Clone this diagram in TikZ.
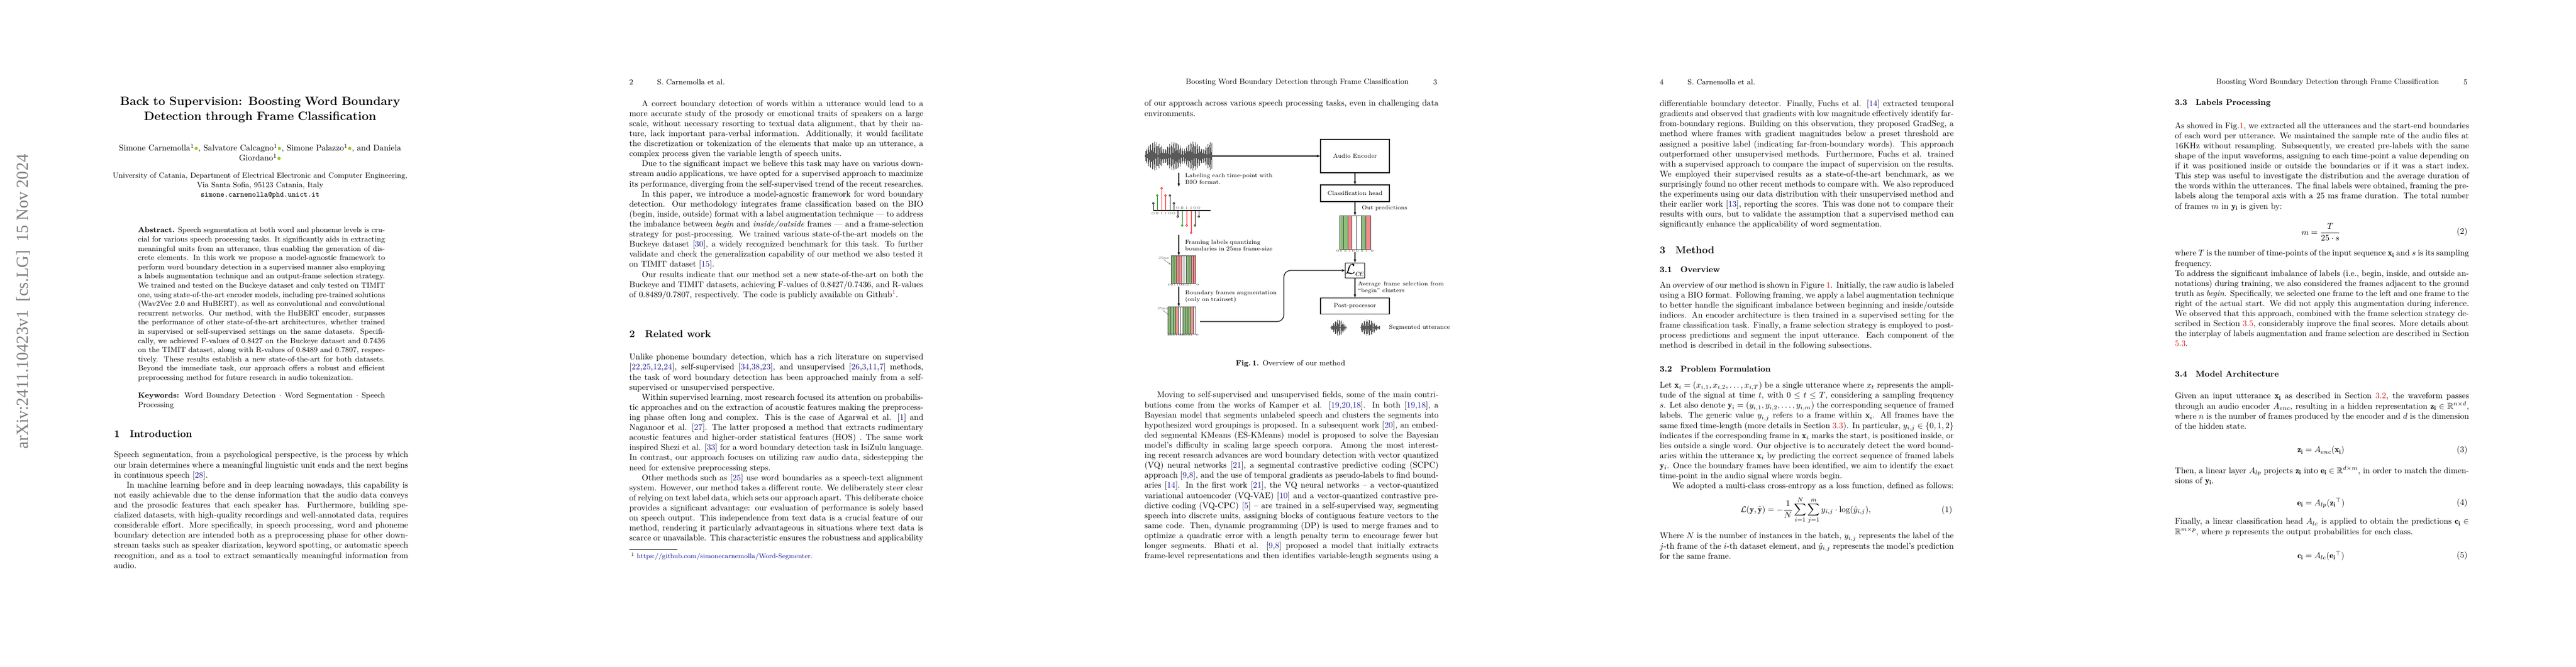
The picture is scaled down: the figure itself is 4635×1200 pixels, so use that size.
\documentclass[tikz,border=0pt]{standalone}
\usepackage{amsmath,amssymb}
\usepackage{fontspec}
\newfontfamily\timesf{Liberation Serif}
\usetikzlibrary{arrows.meta}
\definecolor{cb}{rgb}{0.1,0.1,0.6}
\definecolor{lr}{rgb}{0.85,0.1,0.1}
\definecolor{orc}{rgb}{0.6,0.78,0.2}
\definecolor{bg}{rgb}{0.55,0.74,0.48}
\definecolor{br}{rgb}{0.95,0.55,0.55}
\newcommand{\cc}[1]{\textcolor{cb}{#1}}
\newcommand{\rr}[1]{\textcolor{lr}{#1}}
\newcommand{\PI}{\hspace*{15pt}}
\newcommand{\oid}{\textcolor{orc}{$\bullet$}}
\tikzset{
 para/.style={anchor=north west, inner sep=0, text width=12.32cm, align=justify, font=\normalsize},
 hd/.style={anchor=west, inner sep=0, font=\small},
 sec/.style={anchor=west, inner sep=0, font=\large\bfseries},
 subsec/.style={anchor=west, inner sep=0, font=\normalsize\bfseries},
 box/.style={draw, thick, inner sep=0, font=\scriptsize},
 lab/.style={anchor=west, inner sep=0, font=\scriptsize, text width=4.9cm, align=left},
 arr/.style={-{Stealth[length=4pt]}, thick},
 fr/.style={draw=black!70, line width=0.3pt},
}
\begin{document}
\begin{tikzpicture}[x=0.023290cm, y=-0.023290cm]
\useasboundingbox[fill=white] (0,0) rectangle (4635,1200);

%================ PAGE 1
\begin{scope}
\node[rotate=90, text=black!50, font=\timesf\fontsize{20}{20}\selectfont, inner sep=0] (stamp) at (42,543) {arXiv:2411.10423v1\ \ [cs.LG]\ \ 15 Nov 2024};
\node[anchor=north, inner sep=0, text width=12.27cm, align=center, font=\Large\bfseries] (title) at (468,174) {Back to Supervision: Boosting Word Boundary\\ Detection through Frame Classification};
\node[anchor=north, inner sep=0, text width=13cm, align=center] (auth) at (468,259) {Simone Carnemolla$^{1}$\oid, Salvatore Calcagno$^{1}$\oid, Simone Palazzo$^{1}$\oid, and Daniela\\ Giordano$^{1}$\oid};
\node[anchor=north, inner sep=0, text width=13.5cm, align=center, font=\small] (aff) at (468,311) {University of Catania, Department of Electrical Electronic and Computer Engineering,\\ Via Santa Sofia, 95123 Catania, Italy\\ \texttt{simone.carnemolla@phd.unict.it}};
\node[anchor=north west, inner sep=0, text width=10.35cm, align=justify, font=\small] (abs) at (248,409) {\textbf{Abstract.} Speech segmentation at both word and phoneme levels is crucial for various speech processing tasks. It significantly aids in extracting meaningful units from an utterance, thus enabling the generation of discrete elements. In this work we propose a model-agnostic framework to perform word boundary detection in a supervised manner also employing a labels augmentation technique and an output-frame selection strategy. We trained and tested on the Buckeye dataset and only tested on TIMIT one, using state-of-the-art encoder models, including pre-trained solutions (Wav2Vec 2.0 and HuBERT), as well as convolutional and convolutional recurrent networks. Our method, with the HuBERT encoder, surpasses the performance of other state-of-the-art architectures, whether trained in supervised or self-supervised settings on the same datasets. Specifically, we achieved F-values of 0.8427 on the Buckeye dataset and 0.7436 on the TIMIT dataset, along with R-values of 0.8489 and 0.7807, respectively. These results establish a new state-of-the-art for both datasets. Beyond the immediate task, our approach offers a robust and efficient preprocessing method for future research in audio tokenization.};
\node[anchor=north west, inner sep=0, text width=10.35cm, align=justify, font=\small] (kw) at (248,707) {\textbf{Keywords:} Word Boundary Detection $\cdot$ Word Segmentation $\cdot$ Speech Processing};
\node[sec] (s1) at (205,781) {1\hspace{1em}Introduction};
\node[para] (p1) at (205,813) {Speech segmentation, from a psychological perspective, is the process by which our brain determines where a meaningful linguistic unit ends and the next begins in continuous speech [\cc{28}].\par
\PI In machine learning before and in deep learning nowadays, this capability is not easily achievable due to the dense information that the audio data conveys and the prosodic features that each speaker has. Furthermore, building specialized datasets, with high-quality recordings and well-annotated data, requires considerable effort. More specifically, in speech processing, word and phoneme boundary detection are intended both as a preprocessing phase for other downstream tasks such as speaker diarization, keyword spotting, or automatic speech recognition, and as a tool to extract semantically meaningful information from audio.};
\end{scope}

%================ PAGE 2
\begin{scope}[xshift=927*0.023290cm]
\node[hd] (h2n) at (205,148) {2};
\node[hd] (h2) at (255,148) {S. Carnemolla et al.};
\node[para] (p2a) at (205,180) {\PI A correct boundary detection of words within a utterance would lead to a more accurate study of the prosody or emotional traits of speakers on a large scale, without necessary resorting to textual data alignment, that by their nature, lack important para-verbal information. Additionally, it would facilitate the discretization or tokenization of the elements that make up an utterance, a complex process given the variable length of speech units.\par
\PI Due to the significant impact we believe this task may have on various downstream audio applications, we have opted for a supervised approach to maximize its performance, diverging from the self-supervised trend of the recent researches.\par
\PI In this paper, we introduce a model-agnostic framework for word boundary detection. Our methodology integrates frame classification based on the BIO (begin, inside, outside) format with a label augmentation technique --- to address the imbalance between \emph{begin} and \emph{inside/outside} frames --- and a frame-selection strategy for post-processing. We trained various state-of-the-art models on the Buckeye dataset [\cc{30}], a widely recognized benchmark for this task. To further validate and check the generalization capability of our method we also tested it on TIMIT dataset [\cc{15}].\par
\PI Our results indicate that our method set a new state-of-the-art on both the Buckeye and TIMIT datasets, achieving F-values of 0.8427/0.7436, and R-values of 0.8489/0.7807, respectively. The code is publicly available on Github$^{\rr{1}}$.};
\node[sec] (s2) at (205,601) {2\hspace{1em}Related work};
\node[para] (p2b) at (205,637) {Unlike phoneme boundary detection, which has a rich literature on supervised [\cc{22},\cc{25},\cc{12},\cc{24}], self-supervised [\cc{34},\cc{38},\cc{23}], and unsupervised [\cc{26},\cc{3},\cc{11},\cc{7}] methods, the task of word boundary detection has been approached mainly from a self-supervised or unsupervised perspective.\par
\PI Within supervised learning, most research focused its attention on probabilistic approaches and on the extraction of acoustic features making the preprocessing phase often long and complex. This is the case of Agarwal et al. [\cc{1}] and Naganoor et al. [\cc{27}]. The latter proposed a method that extracts rudimentary acoustic features and higher-order statistical features (HOS) . The same work inspired Shezi et al. [\cc{33}] for a word boundary detection task in IsiZulu language. In contrast, our approach focuses on utilizing raw audio data, sidestepping the need for extensive preprocessing steps.\par
\PI Other methods such as [\cc{25}] use word boundaries as a speech-text alignment system. However, our method takes a different route. We deliberately steer clear of relying on text label data, which sets our approach apart. This deliberate choice provides a significant advantage: our evaluation of performance is solely based on speech output. This independence from text data is a crucial feature of our method, rendering it particularly advantageous in situations where text data is scarce or unavailable. This characteristic ensures the robustness and applicability\parfillskip=0pt\par};
\draw[line width=0.4pt] (205,989) -- coordinate[pos=0.5] (fnr) (292,989);
\node[anchor=west, inner sep=0, font=\footnotesize] (fn) at (208,1002) {$^{1}$ \cc{https://github.com/simonecarnemolla/Word-Segmenter}.};
\end{scope}

%================ PAGE 3
\begin{scope}[xshift=1854*0.023290cm]
\node[hd, anchor=east] (h3) at (681,148) {Boosting Word Boundary Detection through Frame Classification};
\node[hd, anchor=east] (h3n) at (732,148) {3};
\node[para] (p3a) at (205,180) {of our approach across various speech processing tasks, even in challenging data environments.};
% waveform
\foreach \i in {0,...,120} {
  \pgfmathsetmacro{\h}{2+24*abs(sin(\i*47))*(0.35+0.65*abs(sin(\i*5.2)))}
  \draw[black!65, line width=0.45pt] (206+\i,281-\h) -- (206+\i,281+\h);
}
\coordinate (wav) at (327,281);
\coordinate (wavb) at (267,311);
\node[box, minimum width=124*0.02329cm, minimum height=60*0.02329cm] (enc) at (584,281) {Audio Encoder};
\node[box, minimum width=124*0.02329cm, minimum height=30*0.02329cm] (cls) at (584,348) {Classification head};
\node[box, minimum width=124*0.02329cm, minimum height=29*0.02329cm] (post) at (584,551) {Post-processor};
\node[box, minimum width=33*0.02329cm, minimum height=27*0.02329cm, font=\LARGE] (lce) at (584,487) {$\mathcal{L}_{ce}$};
\draw[arr] (wav) -- (enc.west);
\draw[arr] (enc.south) -- (cls.north);
% predictions
\coordinate (pt) at (584,388);
\foreach \a/\b/\c in {556/563/bg,563/571/bg,571/578/br,578/586/white,586/595/white,595/603/bg,603/612/br}
  \filldraw[fill=\c, fr] (\a,388) rectangle (\b,449);
\foreach \xx/\t in {553/O,559/B,567/B,574/I,581/O,588/O,597/B,605/I,615/O}
  \node[font=\fontsize{3}{3}\selectfont, inner sep=0] at (\xx,452) {\t};
\coordinate (pb) at (584,454);
\draw[arr] (cls.south) -- (pt);
\node[lab] (lout) at (596,375) {Out predictions};
\draw[arr] (pb) -- (lce.north);
\draw[arr] (lce.south) -- (post.north);
\node[lab, text width=3.6cm, align=justify] (lavg) at (589,518) {Average\hfill frame\hfill selection from ``begin'' clusters};
% segmented utterance
\foreach \i in {0,...,28} {
  \pgfmathsetmacro{\h}{1+14*abs(sin(\i*53))*abs(sin(\i*6.3))}
  \draw[black!65, line width=0.4pt] (540+\i,590-\h) -- (540+\i,590+\h);
}
\foreach \i in {0,...,34} {
  \pgfmathsetmacro{\h}{1+14*abs(sin(\i*41))*abs(sin(\i*5.1+20))}
  \draw[black!65, line width=0.4pt] (594+\i,590-\h) -- (594+\i,590+\h);
}
\node[lab] (lseg) at (645,590) {Segmented utterance};
% labeling arrow
\coordinate (stt) at (267,336);
\draw[arr] (wavb) -- (stt);
\node[lab] (llab) at (278,322) {Labeling each time-point with\\ BIO format.};
% stem plot
\draw[line width=0.8pt] (221,379) -- (324,379);
\foreach \xx/\yy/\c in {221/366/black,228/352/green!50!black,236/339/red,243/352/red,251/352/black,258/366/black,265/390/black,273/406/green!50!black,281/406/red,289/419/red,296/406/black,303/390/black}{
  \draw[\c, line width=0.6pt] (\xx,379) -- (\xx,\yy);
  \draw[\c, line width=0.5pt, fill=white] (\xx,\yy) circle (1.7);
}
\foreach \xx/\t in {221/O,228/B,236/I,243/I,251/O,258/O}
  \node[font=\fontsize{4}{4}\selectfont, inner sep=0, text=black!70] at (\xx,384) {\t};
\foreach \xx/\t in {265/O,273/B,281/I,289/I,296/O,303/O}
  \node[font=\fontsize{4}{4}\selectfont, inner sep=0, text=black!70] at (\xx,374) {\t};
% framing
\coordinate (stb) at (267,423);
\coordinate (f1t) at (267,460);
\draw[arr] (stb) -- (f1t);
\node[lab] (lfr) at (278,442) {Framing labels quantizing\\ boundaries in 25ms frame-size};
\foreach \a/\b/\c in {253/258/bg,258/262/bg,262/267/br,267/272/br,272/276/white,276/280/white,280/285/bg,285/289/bg,289/293/br,293/297/br}
  \filldraw[fill=\c, fr] (\a,460) rectangle (\b,510);
\foreach \xx/\t in {250/O,255/B,260/I,265/I,270/O,274/O,278/O,283/B,288/I,301/O}
  \node[font=\fontsize{3}{3}\selectfont, inner sep=0] at (\xx,513) {\t};
\node[font=\fontsize{4}{4}\selectfont, inner sep=0, text=black!70] (m1) at (240,465) {25ms};
\draw[black!70, line width=0.3pt, -{Stealth[length=2pt]}] (m1.south) -- (252,476);
% augmentation
\coordinate (f1b) at (267,516);
\coordinate (f2t) at (267,552);
\draw[arr] (f1b) -- (f2t);
\node[lab] (lau) at (278,534) {Boundary frames augmentation\\ (only on trainset)};
\foreach \a/\b/\c in {247/252/bg,252/257/bg,257/261/bg,261/266/br,266/270/white,270/274/white,274/278/bg,278/283/bg,283/288/bg,288/293/br,293/297/white}
  \filldraw[fill=\c, fr] (\a,552) rectangle (\b,601);
\foreach \xx/\t in {249/B,254/B,259/B,263/I,268/O,272/O,276/B,281/B,286/B,290/I,300/O}
  \node[font=\fontsize{3}{3}\selectfont, inner sep=0] at (\xx,603) {\t};
\node[font=\fontsize{4}{4}\selectfont, inner sep=0, text=black!70] (m2) at (238,556) {25ms};
\draw[black!70, line width=0.3pt, -{Stealth[length=2pt]}] (m2.south) -- (249,567);
\coordinate (f2r) at (305,579);
\draw[arr, rounded corners=8pt] (f2r) -| (456,487) -- (lce.west);
\node[anchor=center, inner sep=0, font=\small] (cap) at (468,655) {\textbf{Fig.\,1.} Overview of our method};
\node[para] (p3b) at (205,705) {\PI Moving to self-supervised and unsupervised fields, some of the main contributions come from the works of Kamper et al. [\cc{19},\cc{20},\cc{18}]. In both [\cc{19},\cc{18}], a Bayesian model that segments unlabeled speech and clusters the segments into hypothesized word groupings is proposed. In a subsequent work [\cc{20}], an embedded segmental KMeans (ES-KMeans) model is proposed to solve the Bayesian model's difficulty in scaling large speech corpora. Among the most interesting recent research advances are word boundary detection with vector quantized (VQ) neural networks [\cc{21}], a segmental contrastive predictive coding (SCPC) approach [\cc{9},\cc{8}], and the use of temporal gradients as pseudo-labels to find boundaries [\cc{14}]. In the first work [\cc{21}], the VQ neural networks -- a vector-quantized variational autoencoder (VQ-VAE) [\cc{10}] and a vector-quantized contrastive predictive coding (VQ-CPC) [\cc{5}] -- are trained in a self-supervised way, segmenting speech into discrete units, assigning blocks of contiguous feature vectors to the same code. Then, dynamic programming (DP) is used to merge frames and to optimize a quadratic error with a length penalty term to encourage fewer but longer segments. Bhati et al. [\cc{9},\cc{8}] proposed a model that initially extracts frame-level representations and then identifies variable-length segments using a\parfillskip=0pt\par};
\end{scope}

%================ PAGE 4
\begin{scope}[xshift=2781*0.023290cm]
\node[hd] (h4n) at (205,148) {4};
\node[hd] (h4) at (255,148) {S. Carnemolla et al.};
\node[para] (p4a) at (205,180) {differentiable boundary detector. Finally, Fuchs et al. [\cc{14}] extracted temporal gradients and observed that gradients with low magnitude effectively identify far-from-boundary regions. Building on this observation, they proposed GradSeg, a method where frames with gradient magnitudes below a preset threshold are assigned a positive label (indicating far-from-boundary words). This approach outperformed other unsupervised methods. Furthermore, Fuchs et al. trained with a supervised approach to compare the impact of supervision on the results. We employed their supervised results as a state-of-the-art benchmark, as we surprisingly found no other recent methods to compare with. We also reproduced the experiments using our data distribution with their unsupervised method and their earlier work [\cc{13}], reporting the scores. This was done not to compare their results with ours, but to validate the assumption that a supervised method can significantly enhance the applicability of word segmentation.};
\node[sec] (s3) at (205,450) {3\hspace{1em}Method};
\node[subsec] (s31) at (205,485) {3.1\hspace{1em}Overview};
\node[para] (p4b) at (205,507) {An overview of our method is shown in Figure \rr{1}. Initially, the raw audio is labeled using a BIO format. Following framing, we apply a label augmentation technique to better handle the significant imbalance between beginning and inside/outside indices. An encoder architecture is then trained in a supervised setting for the frame classification task. Finally, a frame selection strategy is employed to post-process predictions and segment the input utterance. Each component of the method is described in detail in the following subsections.};
\node[subsec] (s32) at (205,664) {3.2\hspace{1em}Problem Formulation};
\node[para] (p4c) at (205,687) {Let $\mathbf{x}_i=(x_{i,1},x_{i,2},\dots,x_{i,T})$ be a single utterance where $x_t$ represents the amplitude of the signal at time $t$, with $0\le t\le T$, considering a sampling frequency $s$. Let also denote $\mathbf{y}_i=(y_{i,1},y_{i,2},\dots,y_{i,m})$ the corresponding sequence of framed labels. The generic value $y_{i,j}$ refers to a frame within $\mathbf{x}_i$. All frames have the same fixed time-length (more details in Section \rr{3.3}). In particular, $y_{i,j}\in\{0,1,2\}$ indicates if the corresponding frame in $\mathbf{x}_i$ marks the start, is positioned inside, or lies outside a single word. Our objective is to accurately detect the word boundaries within the utterance $\mathbf{x}_i$ by predicting the correct sequence of framed labels $\mathbf{y}_i$. Once the boundary frames have been identified, we aim to identify the exact time-point in the audio signal where words begin.\par
\PI We adopted a multi-class cross-entropy as a loss function, defined as follows:};
\node[inner sep=0] (eq1) at (468,919) {$\displaystyle \mathcal{L}(\mathbf{y},\hat{\mathbf{y}})=-\frac{1}{N}\sum_{i=1}^{N}\sum_{j=1}^{m}y_{i,j}\cdot\log(\hat{y}_{i,j}),$};
\node[anchor=east, inner sep=0] (n1) at (732,919) {(1)};
\node[para] (p4d) at (205,959) {Where $N$ is the number of instances in the batch, $y_{i,j}$ represents the label of the $j$-th frame of the $i$-th dataset element, and $\hat{y}_{i,j}$ represents the model's prediction for the same frame.};
\end{scope}

%================ PAGE 5
\begin{scope}[xshift=3708*0.023290cm]
\node[hd, anchor=east] (h5) at (681,148) {Boosting Word Boundary Detection through Frame Classification};
\node[hd, anchor=east] (h5n) at (732,148) {5};
\node[subsec] (s33) at (205,186) {3.3\hspace{1em}Labels Processing};
\node[para] (p5a) at (205,220) {As showed in Fig.\rr{1}, we extracted all the utterances and the start-end boundaries of each word per utterance. We maintained the sample rate of the audio files at 16KHz without resampling. Subsequently, we created pre-labels with the same shape of the input waveforms, assigning to each time-point a value depending on if it was positioned inside or outside the boundaries or if it was a start index. This step was useful to investigate the distribution and the average duration of the words within the utterances. The final labels were obtained, framing the pre-labels along the temporal axis with a 25 ms frame duration. The total number of frames $m$ in $\mathbf{y_i}$ is given by:};
\node[inner sep=0] (eq2) at (468,418) {$\displaystyle m=\frac{T}{25\cdot s}$};
\node[anchor=east, inner sep=0] (n2) at (732,418) {(2)};
\node[para] (p5b) at (205,450) {where $T$ is the number of time-points of the input sequence $\mathbf{x_i}$ and $s$ is its sampling frequency.\par
To address the significant imbalance of labels (i.e., begin, inside, and outside annotations) during training, we also considered the frames adjacent to the ground truth as \emph{begin}. Specifically, we selected one frame to the left and one frame to the right of the actual start. We did not apply this augmentation during inference. We observed that this approach, combined with the frame selection strategy described in Section \rr{3.5}, considerably improve the final scores. More details about the interplay of labels augmentation and frame selection are described in Section \rr{5.3}.};
\node[subsec] (s34) at (205,673) {3.4\hspace{1em}Model Architecture};
\node[para] (p5c) at (205,707) {Given an input utterance $\mathbf{x_i}$ as described in Section \rr{3.2}, the waveform passes through an audio encoder $A_{enc}$, resulting in a hidden representation $\mathbf{z_i}\in\mathbb{R}^{n\times d}$, where $n$ is the number of frames produced by the encoder and $d$ is the dimension of the hidden state.};
\node[inner sep=0] (eq3) at (468,811) {$\mathbf{z_i}=A_{enc}(\mathbf{x_i})$};
\node[anchor=east, inner sep=0] (n3) at (732,811) {(3)};
\node[para] (p5d) at (205,839) {Then, a linear layer $A_{lp}$ projects $\mathbf{z_i}$ into $\mathbf{e_i}\in\mathbb{R}^{d\times m}$, in order to match the dimensions of $\mathbf{y_i}$.};
\node[inner sep=0] (eq4) at (468,906) {$\mathbf{e_i}=A_{lp}(\mathbf{z_i}^{\top})$};
\node[anchor=east, inner sep=0] (n4) at (732,906) {(4)};
\node[para] (p5e) at (205,933) {Finally, a linear classification head $A_{lc}$ is applied to obtain the predictions $\mathbf{c_i}\in\mathbb{R}^{m\times p}$, where $p$ represents the output probabilities for each class.};
\node[inner sep=0] (eq5) at (468,1001) {$\mathbf{c_i}=A_{lc}(\mathbf{e_i}^{\top})$};
\node[anchor=east, inner sep=0] (n5) at (732,1001) {(5)};
\end{scope}
\end{tikzpicture}
\end{document}
